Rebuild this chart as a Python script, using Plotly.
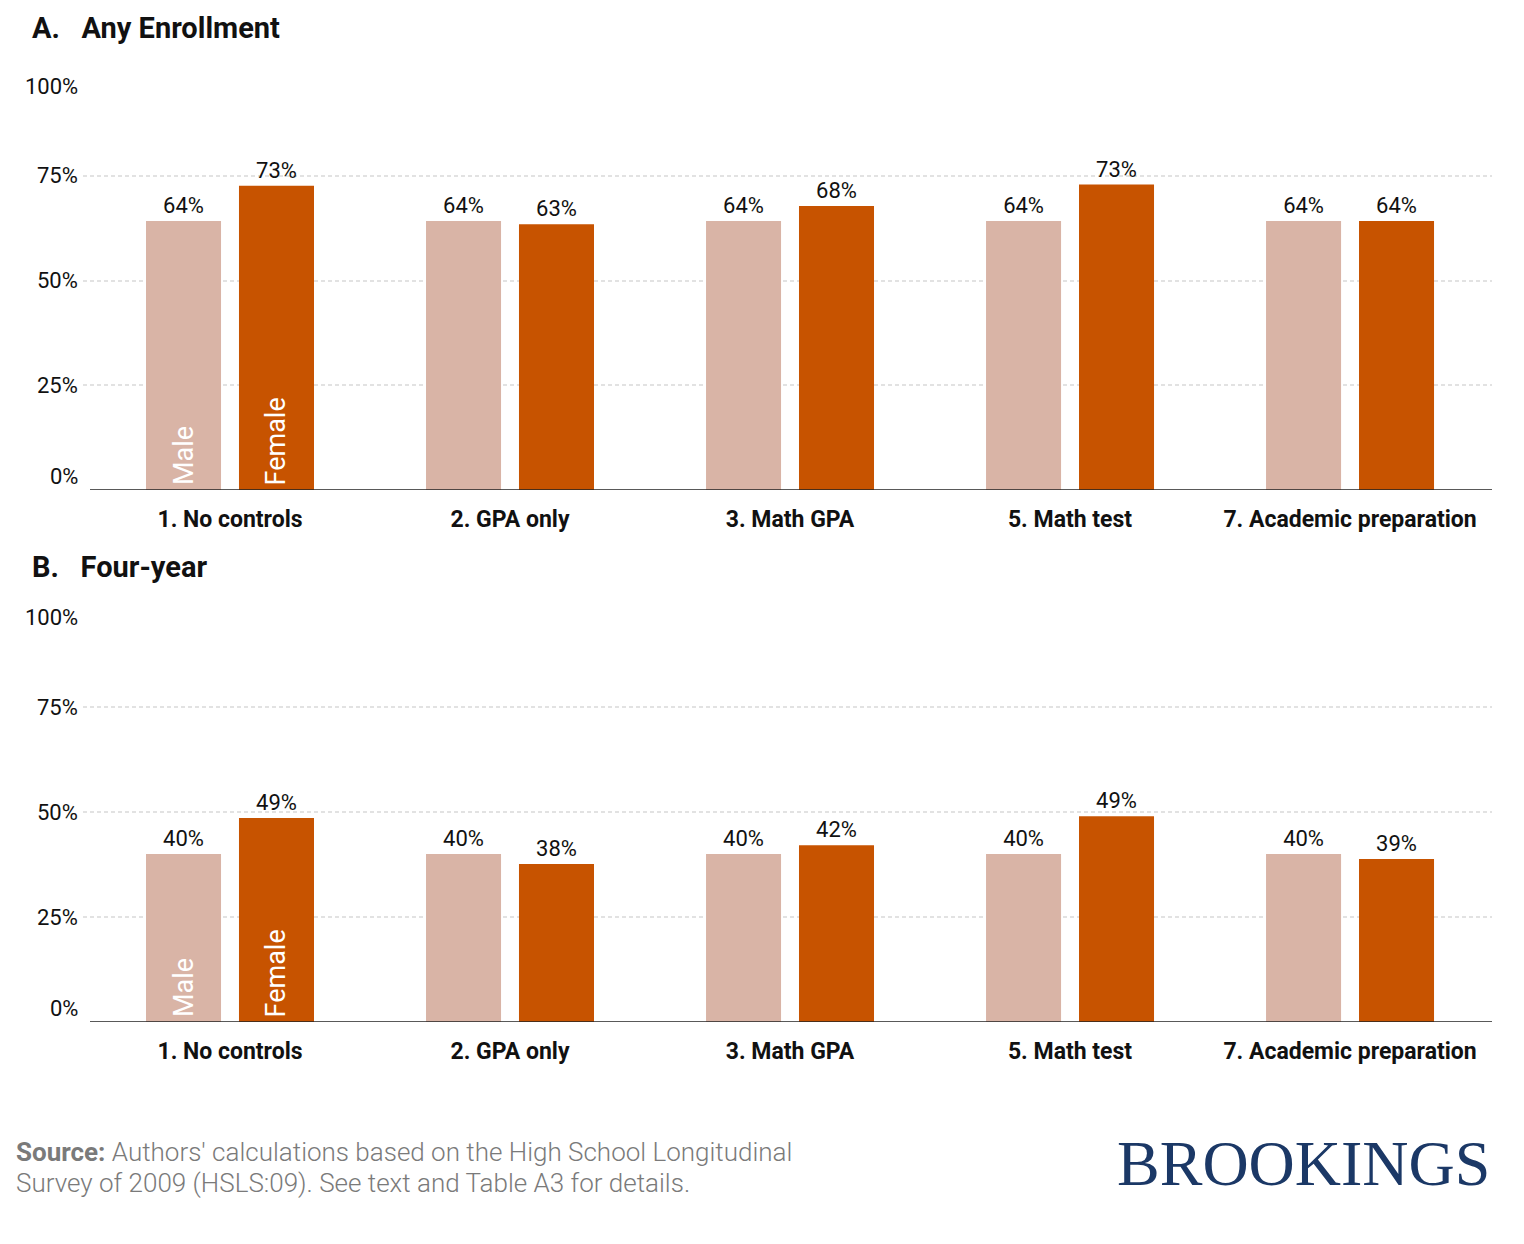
import plotly.graph_objects as go

categories = ["1. No controls", "2. GPA only", "3. Math GPA", "5. Math test", "7. Academic preparation"]
male_any = [64.2, 64.2, 64.2, 64.2, 64.2]
female_any = [72.6, 63.4, 67.8, 72.9, 64.2]
male_four = [40.0, 40.0, 40.0, 40.0, 40.0]
female_four = [48.6, 37.6, 42.1, 49.0, 38.8]
tick_vals = [0, 25, 50, 75, 100]
tick_text = ["0%", "25%", "50%", "75%", "100%"]
panel_titles = ["A.   Any Enrollment", "B.   Four-year"]
source_lines = [
    "<b>Source:</b> Authors' calculations based on the High School Longitudinal",
    "Survey of 2009 (HSLS:09). See text and Table A3 for details.",
]

MALE_C = "#d9b4a6"
FEMALE_C = "#c75300"
W, H = 1524, 1244
OFF = 8  # page body margin
FONT = "Roboto"

def px(p):
    return (p - OFF) / W

def py(p):
    return 1 - (p - OFF) / H

fig = go.Figure()
xs = list(range(len(categories)))

panels = [
    (male_any, female_any, "x", "y", (490, 71)),
    (male_four, female_four, "x2", "y2", (1022, 602)),
]

for i, (m, f, xa, ya, (bot, top)) in enumerate(panels):
    for vals, name, col in [(m, "Male", MALE_C), (f, "Female", FEMALE_C)]:
        fig.add_trace(go.Bar(
            x=xs, y=vals, name=name, marker=dict(color=col, line=dict(width=0)),
            xaxis=xa, yaxis=ya, texttemplate="%{y:.0f}%", textposition="outside",
            textfont=dict(family=FONT, size=22, color="#111"), cliponaxis=False,
            showlegend=False, hoverinfo="skip",
        ))
    axkey = "xaxis" if i == 0 else "xaxis2"
    aykey = "yaxis" if i == 0 else "yaxis2"
    fig.layout[axkey] = dict(
        domain=[px(83), px(1492)], range=[-0.525, 4.507], anchor=ya,
        tickvals=xs, ticktext=categories, ticks="", showgrid=False, zeroline=False,
        showline=False, ticklabelstandoff=13,
        tickfont=dict(family=FONT, size=23, color="#111", weight="bold"),
    )
    fig.layout[aykey] = dict(
        domain=[py(bot), py(top)], range=[0, 100], anchor=xa,
        tickvals=tick_vals, showticklabels=False, showgrid=True,
        gridcolor="#e2e2e2", gridwidth=1.5, griddash="4px,3px", zeroline=False, showline=False,
    )
    # baseline
    fig.add_shape(type="line", xref=xa, yref=ya, x0=-0.5, x1=4.507, y0=0, y1=0,
                  line=dict(color="#222", width=1.5), layer="above")
    # y tick labels
    for v, t in zip(tick_vals, tick_text):
        shift = 0
        if v == 100:
            shift = -15
        elif v == 0:
            shift = 14
        fig.add_annotation(xref="paper", yref=ya, x=px(80), y=v, text=t, showarrow=False,
                           xanchor="right", yanchor="middle", yshift=shift,
                           font=dict(family=FONT, size=22, color="#111"))
    # panel title
    fig.add_annotation(xref="paper", yref="paper", x=px(30), y=py(28 if i == 0 else 567),
                       text=panel_titles[i], showarrow=False, xanchor="left", yanchor="middle",
                       font=dict(family=FONT, size=29, color="#111", weight="bold"))
    # in-bar labels
    for name, dx in [("Male", -0.166), ("Female", 0.166)]:
        fig.add_annotation(xref=xa, yref=ya, x=0 + dx, y=0, text=name, showarrow=False,
                           textangle=-90, xanchor="center", yanchor="bottom", yshift=3,
                           font=dict(family=FONT, size=27, color="white"))

fig.update_layout(barmode="group", bargap=0.336, bargroupgap=0.193)

# source
for line, yc in zip(source_lines, [1152, 1183]):
    fig.add_annotation(xref="paper", yref="paper", x=px(14), y=py(yc),
                       text=line, showarrow=False, xanchor="left", yanchor="middle", align="left",
                       font=dict(family=FONT, size=26, color="#7a7a7a", weight=300))
# logo
fig.add_annotation(xref="paper", yref="paper", x=px(1492), y=py(1163),
                   text="BROOKINGS", showarrow=False, xanchor="right", yanchor="middle",
                   font=dict(family="Liberation Serif", size=64, color="#1b3866"))

fig.update_layout(width=W, height=H, margin=dict(l=0, r=0, t=0, b=0),
                  plot_bgcolor="white", paper_bgcolor="white",
                  font=dict(family=FONT))
fig.write_html("out.html")
